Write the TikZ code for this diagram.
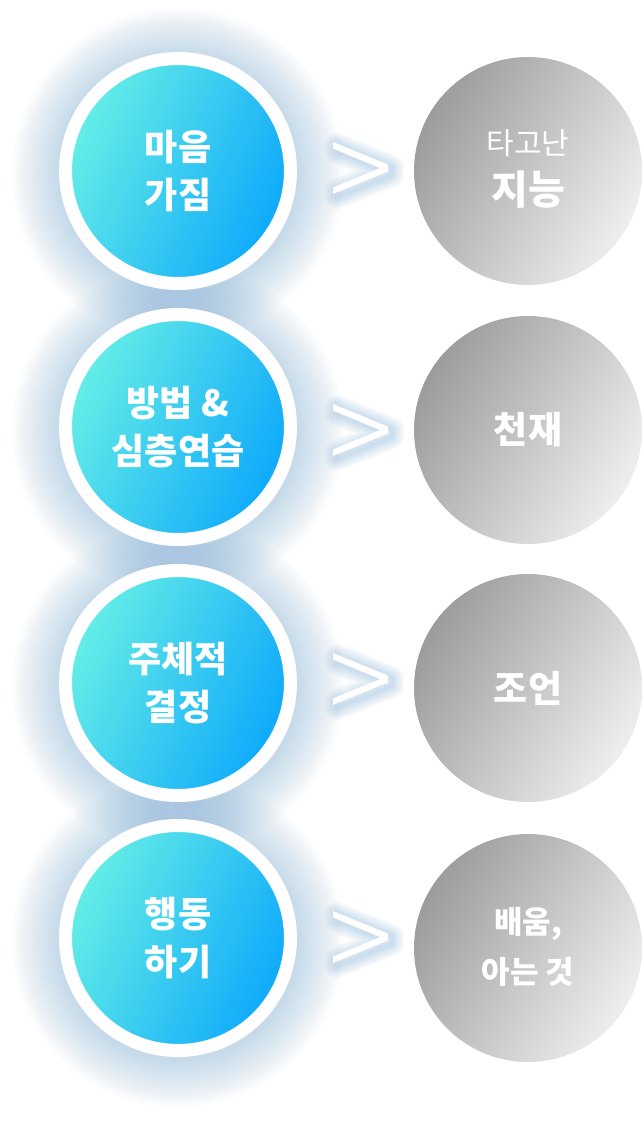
\documentclass[tikz,border=0pt]{standalone}
\usepackage{fontspec}
\newfontfamily\kr{Noto Sans CJK KR}
\definecolor{cyanL}{HTML}{66EFE6}
\definecolor{blueR}{HTML}{0DA8FB}
\definecolor{grayD}{HTML}{9C9C9C}
\definecolor{grayL}{HTML}{EEEEEE}
\definecolor{glowc}{HTML}{5E9CCB}
\tikzset{
  ring/.style={circle, minimum size=225pt, inner sep=0pt, outer sep=0pt,
    draw=white, line width=13pt, top color=cyanL, bottom color=blueR,
    shading angle=65, text=white, align=center,
    font=\kr\bfseries\fontsize{36}{48}\selectfont},
  ball/.style={circle, minimum size=228pt, inner sep=0pt, outer sep=0pt,
    top color=grayD, bottom color=grayL, shading angle=60,
    text=white, align=center, font=\kr\bfseries},
  glowfill/.style={glowc, opacity=0.024},
  glowline/.style={glowc, opacity=0.045, line join=round},
  chev/.style={white}
}
\begin{document}
\begin{tikzpicture}[x=1pt,y=-1pt]
\useasboundingbox[fill=white] (0,0) rectangle (642,1125);
% glow behind blue circles
\foreach \cy in {171,427,683,938}{
  \foreach \k in {1,...,16}{
    \fill[glowfill] (178,\cy+3) circle[radius=118pt+3pt*\k];
  }
}
% chevrons with glow
\foreach \cy [count=\i] in {168,430,679,937}{
  \foreach \w in {3,6,...,24}{
    \draw[glowline, line width=\w pt]
      (333+4,\cy-26+3) -- (388+4,\cy-4+3) -- (388+4,\cy+4+3) -- (333+4,\cy+26+3)
      -- (333+4,\cy+19+3) -- (380+4,\cy+3) -- (333+4,\cy-19+3) -- cycle;
  }
  \fill[chev] (333,\cy-26) -- (388,\cy-3.5) -- (388,\cy+3.5) -- (333,\cy+26)
      -- (333,\cy+19.5) -- (380,\cy) -- (333,\cy-19.5) -- cycle;
}
% blue circles
\node[ring] (b1) at (178,171) {마음\\가짐};
\node[ring] (b2) at (178,427) {방법 \&\\심층연습};
\node[ring] (b3) at (178,683) {주체적\\결정};
\node[ring] (b4) at (178,938) {행동\\하기};
% gray circles
\node[ball] (g1) at (528,171) {};
\node[ball] (g2) at (528,430) {};
\node[ball] (g3) at (528,688) {};
\node[ball] (g4) at (528,948) {};
\node[text=white, font=\kr\fontsize{30}{36}\selectfont] (t1a) at (528,143) {타고난};
\node[text=white, font=\kr\bfseries\fontsize{40}{48}\selectfont] (t1b) at (528,190) {지능};
\node[text=white, font=\kr\bfseries\fontsize{37}{44}\selectfont] (t2) at (528,430) {천재};
\node[text=white, font=\kr\bfseries\fontsize{37}{44}\selectfont] (t3) at (528,688) {조언};
\node[text=white, align=center, font=\kr\bfseries\fontsize{31}{50}\selectfont] (t4) at (528,947) {배움,\\아는 것};
\end{tikzpicture}
\end{document}
